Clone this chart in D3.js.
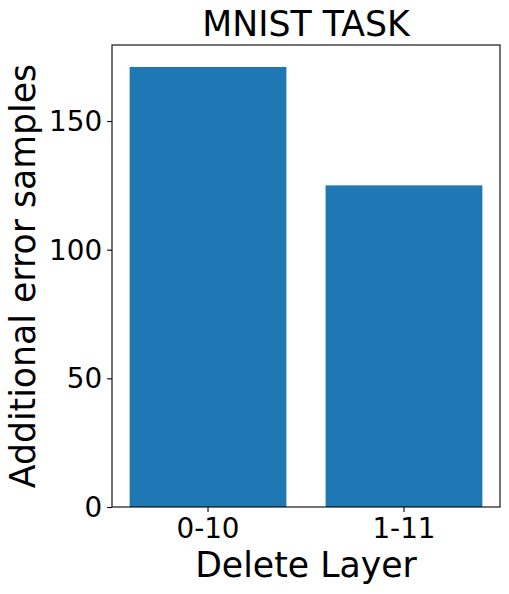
<!DOCTYPE html>
<html>
<head>
<meta charset="utf-8">
<script src="https://cdn.jsdelivr.net/npm/d3@7"></script>
<style>
  html, body { margin: 0; padding: 0; background: #fff; }
  svg { display: block; }
  text { font-family: "DejaVu Sans", sans-serif; fill: #000; }
</style>
</head>
<body>
<script>
const categories = ["0-10", "1-11"];
const values = [171, 125];
const yTicks = [0, 50, 100, 150];
const title = "MNIST TASK";
const xLabel = "Delete Layer";
const yLabel = "Additional error samples";

const W = 509, H = 594;
const m = { left: 112, right: 500, top: 45, bottom: 507 };

const svg = d3.select("body").append("svg").attr("width", W).attr("height", H);

const x = d3.scaleBand().domain(categories).range([m.left, m.right])
  .paddingInner(0.2).paddingOuter(0.09).align(0.5);
const y = d3.scaleLinear().domain([0, d3.max(values) * 1.05]).range([m.bottom, m.top]);

svg.append("g").selectAll("rect").data(values).join("rect")
  .attr("x", (d, i) => x(categories[i]))
  .attr("width", x.bandwidth())
  .attr("y", d => y(d))
  .attr("height", d => y(0) - y(d))
  .attr("fill", "#1f77b4");

const fs = 27.8;
const yAxis = svg.append("g").attr("transform", `translate(${m.left},0)`)
  .call(d3.axisLeft(y).tickValues(yTicks).tickSize(4.9).tickPadding(5).tickFormat(d3.format("d")));
const xAxis = svg.append("g").attr("transform", `translate(0,${m.bottom})`)
  .call(d3.axisBottom(x).tickSize(4.9).tickPadding(5));
[yAxis, xAxis].forEach(g => {
  g.attr("font-size", fs).attr("font-family", "DejaVu Sans");
  g.select(".domain").remove();
  g.selectAll("line").attr("stroke", "#000").attr("stroke-width", 1.1);
  g.selectAll("text").attr("font-size", fs).attr("fill", "#000");
});
yAxis.selectAll("text").attr("dy", null).attr("y", 9.5);
xAxis.selectAll("text").attr("dy", null).attr("y", 31.3);

// frame
svg.append("rect").attr("x", m.left).attr("y", m.top)
  .attr("width", m.right - m.left).attr("height", m.bottom - m.top)
  .attr("fill", "none").attr("stroke", "#000").attr("stroke-width", 1.1);

const cx = (m.left + m.right) / 2;
const lfs = 34.7;
svg.append("text").attr("x", cx).attr("y", 36).attr("text-anchor", "middle")
  .attr("font-size", lfs).text(title);
svg.append("text").attr("x", cx).attr("y", 577).attr("text-anchor", "middle")
  .attr("font-size", lfs).text(xLabel);
svg.append("text").attr("transform", `translate(35,${(m.top + m.bottom) / 2}) rotate(-90)`)
  .attr("text-anchor", "middle").attr("font-size", lfs).text(yLabel);
</script>
</body>
</html>
